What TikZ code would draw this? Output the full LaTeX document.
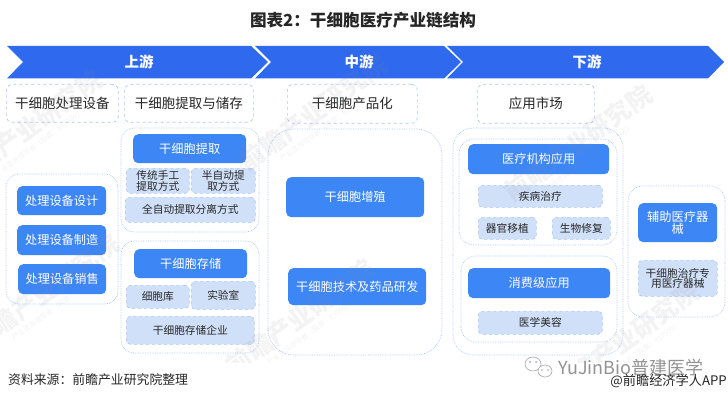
\documentclass[tikz,border=0pt]{standalone}
\usepackage{fontspec}
\setmainfont{Noto Sans CJK SC}
\definecolor{chev}{HTML}{2E69EE}
\definecolor{bluebox}{HTML}{3D86F5}
\definecolor{lightbox}{HTML}{D0E0F8}
\definecolor{dashc}{HTML}{A9C8F8}
\definecolor{ink}{HTML}{262626}
\definecolor{wm}{HTML}{8A8F98}
\newcommand{\fs}[1]{\fontsize{#1}{#1}\selectfont}
\tikzset{
  x=1pt,y=-1pt,
  chevshape/.style={fill=chev,draw=none},
  chevlabel/.style={text=white,font=\fs{14.5}\bfseries,inner sep=0},
  headbox/.style={draw=dashc,dashed,line width=.7pt,rounded corners=6pt,fill=white,font=\fs{13.5},text=ink,inner sep=0},
  panel/.style={draw=dashc,densely dotted,line width=.7pt,fill=none},
  bluenode/.style={fill=bluebox,rounded corners=5pt,text=white,align=center,inner sep=0,font=\fs{12.2}},
  lightnode/.style={fill=lightbox,draw=dashc,dashed,line width=.6pt,rounded corners=4pt,text=ink,align=center,inner sep=0,font=\fs{10.7}},
  wmark/.style={text=wm,opacity=.10,rotate=36,font=\fs{25}\bfseries,inner sep=0},
  wmsmall/.style={text=wm,opacity=.10,rotate=36,font=\fs{7},inner sep=0},
}
\newcommand{\bx}[7]{\node[#1,anchor=north west,minimum width=#5-#3,minimum height=#6-#4] (#2) at (#3,#4) {#7};}
\newcommand{\pn}[6]{\draw[panel,rounded corners=#1] (#3,#4) rectangle (#5,#6);\coordinate (#2) at (#3,#4);}
\newcommand{\wmk}[3]{\node[wmark] (#1) at (#2,#3) {前瞻产业研究院};
  \node[wmsmall] (#1s) at ([shift={(11,15)}]#1.center) {产业咨询领导者（股票：839599）};}
\begin{document}
\begin{tikzpicture}
\useasboundingbox (0,0) rectangle (728,401);
\fill[white] (0,0) rectangle (728,401);
% title
\node[text=ink,font=\fs{16.6}\bfseries,inner sep=0] (title) at (363,20) {图表2：干细胞医疗产业链结构};
% chevrons
\fill[chevshape] (7,46) -- (251,46) -- (268,62) -- (251,78.5) -- (7,78.5) -- (23,62) -- cycle;
\fill[chevshape] (255,46) -- (444,46) -- (461,62) -- (444,78.5) -- (255,78.5) -- (271,62) -- cycle;
\fill[chevshape] (447,46) -- (708,46) -- (724,62) -- (708,78.5) -- (447,78.5) -- (463,62) -- cycle;
\node[chevlabel] (up) at (139,62) {上游};
\node[chevlabel] (mid) at (359,62) {中游};
\node[chevlabel] (down) at (587,62) {下游};
% header boxes
\bx{headbox}{ha}{6}{84}{118}{122}{干细胞处理设备}
\bx{headbox}{hb}{124}{84}{253}{122}{干细胞提取与储存}
\bx{headbox}{hc}{287}{84}{417}{123}{干细胞产品化}
\bx{headbox}{hd}{477}{84}{594}{123}{应用市场}
% panels
\pn{13pt}{p1}{6}{174}{118}{304}
\pn{13pt}{p2}{121}{128}{259}{232}
\pn{13pt}{p3}{121}{241}{259}{353}
\pn{26pt}{p4}{268}{129}{442}{355}
\pn{20pt}{p5}{453}{128}{623}{355}
\pn{15pt}{p6}{459}{139}{617}{245}
\pn{15pt}{p7}{461}{256}{617}{342}
\pn{15pt}{p8}{628}{186}{725}{317}
% blue boxes
\bx{bluenode}{b1}{133}{134}{246}{163}{干细胞提取}
\bx{bluenode}{b2}{17}{186}{106}{215}{处理设备设计}
\bx{bluenode}{b3}{17}{225}{106}{255}{处理设备制造}
\bx{bluenode}{b4}{18}{264}{106}{294}{处理设备销售}
\bx{bluenode}{b5}{134}{249}{247}{278}{干细胞存储}
\bx{bluenode}{b6}{286}{177}{424}{217}{干细胞增殖}
\bx{bluenode}{b7}{288}{268}{426}{305}{干细胞技术及药品研发}
\bx{bluenode}{b8}{468}{144}{609}{174}{医疗机构应用}
\bx{bluenode}{b9}{468}{268}{610}{298}{消费级应用}
\bx{bluenode}{b10}{638}{203}{717}{242}{辅助医疗器\\械}
% light boxes
\bx{lightnode}{l1}{126}{168}{189}{193}{传统手工\\提取方式}
\bx{lightnode}{l2}{191}{168}{255}{193}{半自动提\\取方式}
\bx{lightnode}{l3}{125}{197}{255}{222}{全自动提取分离方式}
\bx{lightnode}{l4}{126}{285}{189}{308}{细胞库}
\bx{lightnode}{l5}{191}{281}{255}{309}{实验室}
\bx{lightnode}{l6}{126}{316}{254}{344}{干细胞存储企业}
\bx{lightnode}{l7}{478}{185}{602}{207}{疾病治疗}
\bx{lightnode}{l8}{478}{217}{536}{239}{器官移植}
\bx{lightnode}{l9}{552}{217}{610}{239}{生物修复}
\bx{lightnode}{l10}{478}{311}{602}{334}{医学美容}
\bx{lightnode}{l11}{638}{260}{717}{296}{干细胞治疗专\\用医疗器械}
% watermarks
\begin{scope}
\clip (0,40) rectangle (728,362);
\wmk{w1}{28}{128}
\wmk{w2}{313}{113}
\wmk{w3}{578}{143}
\wmk{w4}{45}{292}
\wmk{w5}{300}{317}
\wmk{w6}{625}{340}
\end{scope}
% footer
\node[anchor=west,text=ink,font=\fs{12.85},inner sep=0] (src) at (8,380) {资料来源：前瞻产业研究院整理};
\node[anchor=west,text=gray!85,font=\fs{18},inner sep=0] (yj) at (558,368) {YuJinBio普建医学};
\draw[gray!70,line width=.6pt] (533,364) circle[x radius=8,y radius=7];
\draw[gray!70,line width=.6pt,fill=white] (545,371) circle[x radius=7,y radius=6];
\fill[gray!70] (530,362) circle[radius=1] (536,362) circle[radius=1] (542,370) circle[radius=.8] (548,370) circle[radius=.8];
\node[anchor=east,text=ink,font=\fs{13.2},inner sep=0] (app) at (727,381) {@前瞻经济学人APP};
\end{tikzpicture}
\end{document}
